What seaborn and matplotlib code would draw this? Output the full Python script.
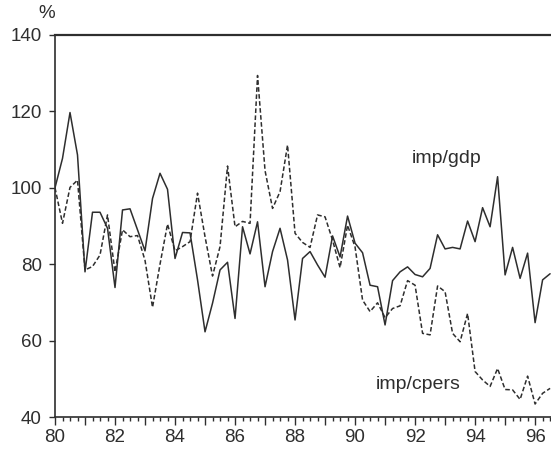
import numpy as np
import pandas as pd
import seaborn as sns
import matplotlib.pyplot as plt
from matplotlib.ticker import MultipleLocator, FuncFormatter

# quarterly, 1980Q1 .. 1996Q3, index 1980Q1 = 100
start_year = 80
imp_gdp = [100, 107.7, 119.7, 108.6, 78, 93.6, 93.6, 89.4, 73.9, 94.2,
           94.5, 89, 83.5, 97.2, 103.8, 99.6, 81.5, 88.3, 88.2, 75.9,
           62.3, 69.8, 78.5, 80.5, 65.8, 89.8, 82.7, 91.1, 74.1, 83.3,
           89.4, 81.1, 65.4, 81.5, 83.3, 79.8, 76.6, 87.4, 81.9, 92.6,
           85.5, 83, 74.5, 74.1, 64.1, 75.7, 78, 79.3, 77.3, 76.7,
           78.9, 87.7, 84, 84.4, 84, 91.3, 85.9, 94.8, 89.8, 102.9,
           77.2, 84.4, 76.3, 82.9, 64.7, 75.9, 77.5]
imp_cpers = [100, 90.7, 100.1, 102, 78.5, 79.4, 82.4, 92.9, 78, 89,
             87.2, 87.5, 81, 68.7, 80, 90.5, 83.5, 84.6, 85.9, 98.6,
             87.2, 76.9, 84.6, 105.7, 89.8, 91.2, 90.7, 129.4, 104.5, 94.6,
             99, 111.2, 88.1, 85.7, 84.4, 92.9, 92.4, 86.3, 79.1, 90.2,
             84.5, 70.6, 67.6, 69.9, 66, 68.4, 69.1, 75.7, 74.5, 61.9,
             61.5, 74.3, 72.8, 61.9, 59.7, 67.1, 51.9, 49.7, 48, 52.7,
             47.2, 47.1, 44.6, 50.7, 43.4, 46.2, 47.5]

t = start_year + np.arange(len(imp_gdp)) * 0.25
df = pd.DataFrame({
    "t": np.concatenate([t, t]),
    "value": imp_gdp + imp_cpers,
    "series": ["imp/gdp"] * len(imp_gdp) + ["imp/cpers"] * len(imp_cpers),
})

sns.set_style("ticks")
plt.rcParams["font.family"] = ["Liberation Sans", "DejaVu Sans"]

fig = plt.figure(figsize=(5.51, 4.5), dpi=100)
ax = fig.add_axes([55 / 551, 33 / 450, 1 - 55 / 551, 382 / 450])

ink = "#2e2e2e"
sns.lineplot(data=df, x="t", y="value", hue="series", style="series",
             palette={"imp/gdp": ink, "imp/cpers": ink},
             dashes={"imp/gdp": "", "imp/cpers": (3, 1.6)},
             linewidth=1.1, legend=False, ax=ax)

ax.set_xlim(80, 96.53)
ax.set_ylim(40, 140)
ax.set_xlabel("")
ax.set_ylabel("")

ax.xaxis.set_major_locator(MultipleLocator(1))
ax.xaxis.set_minor_locator(MultipleLocator(0.25))
ax.xaxis.set_major_formatter(FuncFormatter(lambda v, p: "%d" % v if int(round(v)) % 2 == 0 else ""))
ax.yaxis.set_major_locator(MultipleLocator(20))

ax.tick_params(axis="x", which="major", length=6, width=1, direction="out", labelsize=13.5, pad=3, color=ink, labelcolor=ink)
ax.tick_params(axis="x", which="minor", length=3, width=1, direction="out", color=ink)
ax.tick_params(axis="y", which="major", length=4.5, width=1, direction="out", labelsize=13.5, pad=5, color=ink, labelcolor=ink)

ax.spines["right"].set_visible(False)
ax.spines["top"].set_linewidth(1.6)
ax.spines["left"].set_linewidth(1.2)
ax.spines["bottom"].set_linewidth(1.2)
for s in ["top", "left", "bottom"]:
    ax.spines[s].set_color(ink)

ax.text(91.9, 107.8, "imp/gdp", fontsize=14, color=ink, ha="left", va="center")
ax.text(90.7, 48.6, "imp/cpers", fontsize=14, color=ink, ha="left", va="center")
fig.text(47 / 551, 1 - 14 / 450, "%", fontsize=13.5, color=ink, ha="center", va="center")

fig.savefig("out.png", dpi=100)
